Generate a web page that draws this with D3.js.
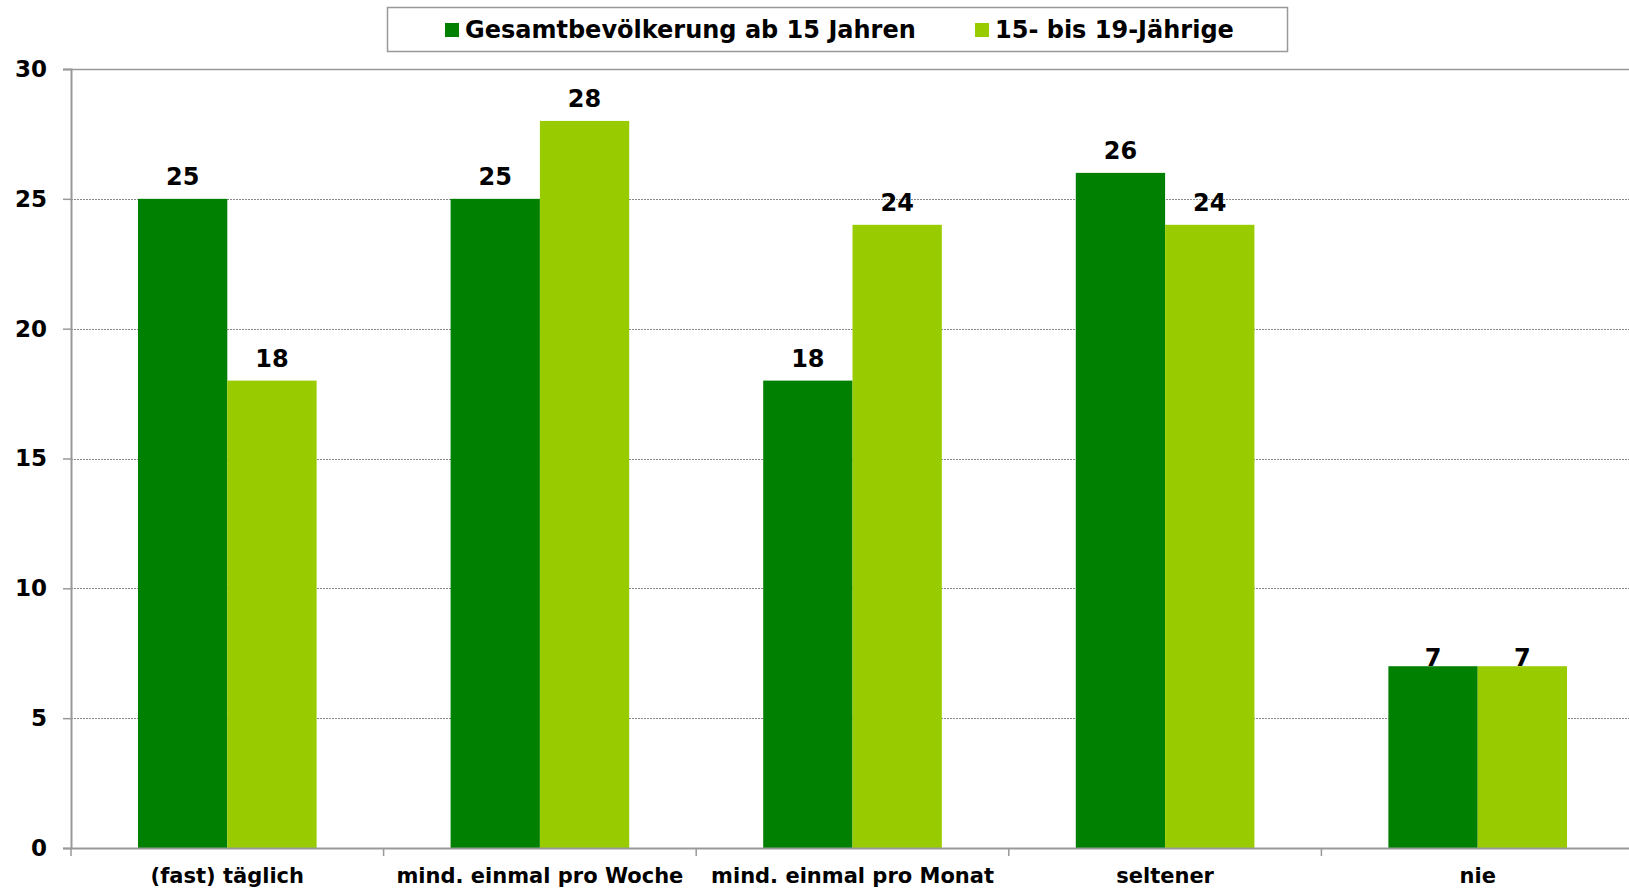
<!DOCTYPE html>
<html>
<head>
<meta charset="utf-8">
<script src="https://cdn.jsdelivr.net/npm/d3@7"></script>
<style>
  body { margin: 0; background: #fff; }
  svg { display: block; }
  text { font-family: "DejaVu Sans", Verdana, sans-serif; font-weight: bold; fill: #000; }
</style>
</head>
<body>
<svg id="chart" width="1629" height="890"></svg>
<script>
// categories and series values
const categories = ["(fast) täglich", "mind. einmal pro Woche", "mind. einmal pro Monat", "seltener", "nie"];
const seriesNames = ["Gesamtbevölkerung ab 15 Jahren", "15- bis 19-Jährige"];
const gesamt = [25, 25, 18, 26, 7];
const jugend = [18, 28, 24, 24, 7];
const yTicks = [0, 5, 10, 15, 20, 25, 30];
const colors = ["#008000", "#99cc00"];

const svg = d3.select("#chart");
const margin = { top: 69, right: -5, bottom: 42, left: 71 };
const width = 1629 - margin.left - margin.right;
const height = 890 - margin.top - margin.bottom;

const x0 = d3.scaleBand().domain(categories).range([margin.left, margin.left + width]).padding(0);
const x1 = d3.scaleBand().domain(seriesNames).range([0, x0.bandwidth()]).paddingInner(0).paddingOuter(0.75);
const y = d3.scaleLinear().domain([0, 30]).range([margin.top + height, margin.top]);

// grid lines (dotted), top one solid
svg.append("g")
  .selectAll("line")
  .data(yTicks.filter(d => d > 0))
  .enter()
  .append("line")
  .attr("x1", margin.left)
  .attr("x2", 1629)
  .attr("y1", d => Math.round(y(d)) + 0.5)
  .attr("y2", d => Math.round(y(d)) + 0.5)
  .attr("stroke", d => d === 30 ? "#999" : "#888")
  .attr("stroke-width", d => d === 30 ? 1.5 : 1)
  .attr("stroke-dasharray", d => d === 30 ? null : "2,1");

// bars
const rows = categories.map((c, i) => ({ cat: c, vals: [gesamt[i], jugend[i]] }));
const groups = svg.append("g")
  .selectAll("g")
  .data(rows)
  .enter()
  .append("g")
  .attr("transform", d => "translate(" + x0(d.cat) + ",0)");

groups.selectAll("rect")
  .data(d => d.vals.map((v, j) => ({ name: seriesNames[j], v: v, j: j })))
  .enter()
  .append("rect")
  .attr("x", d => x1(d.name))
  .attr("y", d => y(d.v))
  .attr("width", x1.bandwidth())
  .attr("height", d => y(0) - y(d.v))
  .attr("fill", d => colors[d.j]);

// value labels
groups.selectAll("text")
  .data(d => d.vals.map((v, j) => ({ name: seriesNames[j], v: v })))
  .enter()
  .append("text")
  .attr("x", d => x1(d.name) + x1.bandwidth() / 2)
  .attr("y", d => y(d.v) - (d.v < 10 ? 0 : 14))
  .attr("text-anchor", "middle")
  .style("font-size", "24px")
  .text(d => d.v);

// y axis
const yAxis = svg.append("g")
  .attr("transform", "translate(" + margin.left + ",0)")
  .call(d3.axisLeft(y).tickValues(yTicks).tickSize(8).tickPadding(16).tickFormat(d3.format("d")));
yAxis.select(".domain").attr("stroke", "#999").attr("stroke-width", 2);
yAxis.selectAll(".tick line").attr("stroke", "#999").attr("stroke-width", 1.5);
yAxis.selectAll(".tick text").style("font-size", "23px").attr("fill", "#000");

// x axis
const xAxis = svg.append("g")
  .attr("transform", "translate(0," + (margin.top + height) + ")")
  .call(d3.axisBottom(x0).tickSize(0).tickPadding(20));
xAxis.select(".domain").attr("stroke", "#999").attr("stroke-width", 2);
xAxis.selectAll(".tick text").style("font-size", "21px").attr("fill", "#000");
// category separators
xAxis.append("g")
  .selectAll("line")
  .data(categories)
  .enter()
  .append("line")
  .attr("x1", d => x0(d))
  .attr("x2", d => x0(d))
  .attr("y1", 0)
  .attr("y2", 8)
  .attr("stroke", "#999")
  .attr("stroke-width", 1.5);

// legend
const legend = svg.append("g");
legend.append("rect")
  .attr("x", 387.5).attr("y", 7.5)
  .attr("width", 900).attr("height", 44)
  .attr("fill", "#fff")
  .attr("stroke", "#999").attr("stroke-width", 1.5);
const legendX = [445, 975];
seriesNames.forEach((s, i) => {
  legend.append("rect")
    .attr("x", legendX[i]).attr("y", 23)
    .attr("width", 14).attr("height", 14)
    .attr("fill", colors[i]);
  legend.append("text")
    .attr("x", legendX[i] + 20).attr("y", 30)
    .attr("dominant-baseline", "central")
    .style("font-size", "24px")
    .text(s);
});
</script>
</body>
</html>
